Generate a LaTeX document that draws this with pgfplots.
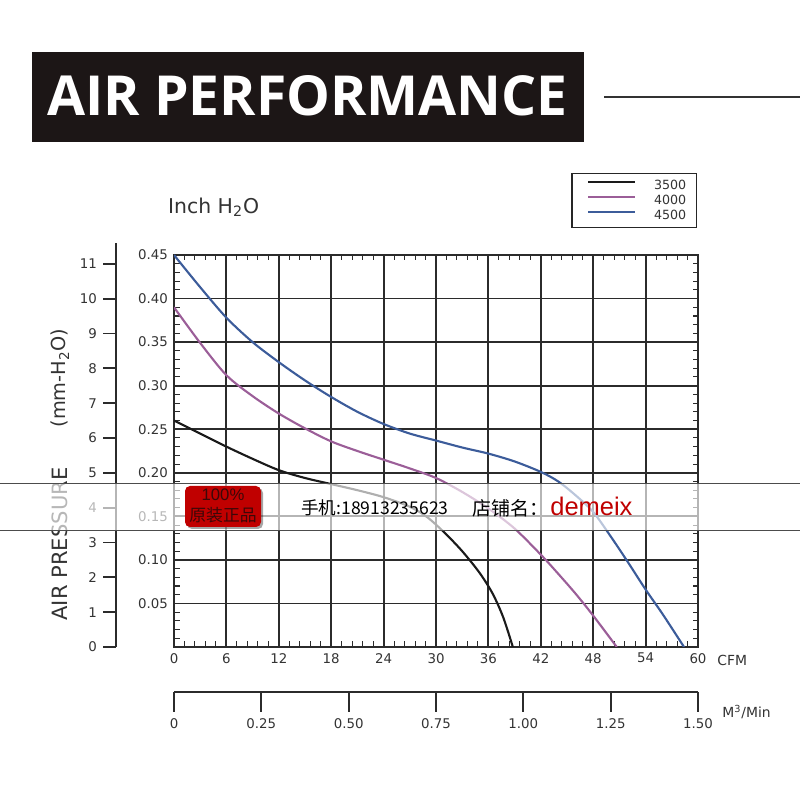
\documentclass[border=0pt]{standalone}
\usepackage{fontspec}
\setmainfont{DejaVu Sans}
\newfontfamily\cjk{Noto Sans CJK SC}
\newfontfamily\titlefont{Open Sans}
\newfontfamily\arialfont{Liberation Sans}
\usepackage{pgfplots}
\pgfplotsset{compat=1.18}

\definecolor{c3500}{HTML}{1A1A1A}
\definecolor{c4000}{HTML}{9B5E98}
\definecolor{c4500}{HTML}{3C5C9A}
\definecolor{gridc}{HTML}{2B2B2B}
\definecolor{txt}{HTML}{333333}
\definecolor{badge}{HTML}{C00000}
\definecolor{titlebg}{HTML}{1C1616}

\pgfplotsset{every tick label/.append style={font=\fontsize{7.6}{8}\selectfont, text=txt},
  /pgf/number format/assume math mode=true}

\begin{document}
\begin{tikzpicture}
\useasboundingbox (0,0) rectangle (160mm,160mm);
% title banner
\fill[titlebg] (6.4mm,131.6mm) rectangle (116.8mm,149.6mm);
\node[text=white, font=\titlefont\bfseries\fontsize{31.4}{32}\selectfont] at (61.5mm,140.9mm) {AIR PERFORMANCE};
\draw[line width=1.1pt, black!80] (120.8mm,140.6mm) -- (160mm,140.6mm);

% outer mm-H2O axis
\begin{axis}[at={(23.2mm,30.6mm)}, anchor=south west, scale only axis,
  width=2mm, height=80.8mm, ymin=0, ymax=11.6, xmin=0, xmax=1,
  axis y line*=left, hide x axis, ytick={0,1,...,11},
  tick align=outside, major tick length=2.6mm,
  y axis line style={line width=1pt, gridc},
  major tick style={line width=1pt, gridc}]
\addplot[draw=none] coordinates {(0,0)};
\end{axis}

% main chart
\begin{axis}[at={(34.8mm,30.6mm)}, anchor=south west, scale only axis,
  width=104.8mm, height=78.4mm,
  xmin=0, xmax=60, ymin=0, ymax=0.45,
  xtick={0,6,12,18,24,30,36,42,48,54,60},
  ytick={0,0.05,0.1,0.15,0.2,0.25,0.3,0.35,0.4,0.45},
  yticklabels={,0.05,0.10,0.15,0.20,0.25,0.30,0.35,0.40,0.45},
  minor x tick num=4, minor y tick num=4,
  tick align=inside, major tick length=0pt, minor tick length=1.1mm,
  grid=major, major grid style={gridc, line width=1.05pt},
  axis line style={gridc, line width=1.05pt},
  minor tick style={gridc, line width=0.6pt},
  legend style={at={(0.998,1.209)}, anchor=north east, draw=black!85,
    line width=0.8pt, font=\fontsize{7.2}{8}\selectfont, text=txt,
    inner xsep=2mm, inner ysep=0.9mm, row sep=0pt,
    nodes={inner sep=0pt, text height=2.2mm, text depth=0.8mm}},
  legend cell align=right,
  legend image code/.code={\path[draw=none] (0mm,0mm) -- (14.4mm,0mm);
    \draw[#1] (1.2mm,0.8mm) -- (10.6mm,0.8mm);}]
\addplot[c3500, line width=1.2pt, smooth] coordinates {
(0,0.260) (3,0.245) (6,0.230) (9,0.216) (12,0.203) (15,0.194) (18,0.187)
(21,0.180) (24,0.172) (27,0.161) (29,0.149) (31,0.131) (33,0.110)
(35,0.085) (36.5,0.061) (37.7,0.034) (38.8,0.0)};
\addlegendentry{3500}
\addplot[c4000, line width=1.2pt, smooth] coordinates {
(0,0.390) (3,0.349) (6,0.312) (9,0.288) (12,0.268) (15,0.251) (18,0.236)
(21,0.225) (24,0.215) (27,0.205) (30,0.194) (33,0.178) (36,0.159)
(39,0.136) (42,0.106) (44,0.084) (46,0.061) (48,0.036) (50.7,0.0)};
\addlegendentry{4000}
\addplot[c4500, line width=1.2pt, smooth] coordinates {
(0,0.450) (3,0.413) (6,0.378) (9,0.350) (12,0.327) (15,0.306) (18,0.287)
(21,0.270) (24,0.256) (27,0.245) (30,0.237) (33,0.229) (36,0.222)
(39,0.213) (42,0.201) (44,0.190) (46,0.174) (48,0.155) (50,0.127)
(52,0.097) (54,0.066) (56,0.037) (58.4,0.0)};
\addlegendentry{4500}
\end{axis}

% M3/Min axis
\begin{axis}[at={(34.8mm,21.6mm)}, anchor=south west, scale only axis,
  width=104.8mm, height=1mm, xmin=0, xmax=1.5, ymin=0, ymax=1,
  hide y axis, axis x line*=bottom,
  xtick={0,0.25,0.5,0.75,1,1.25,1.5},
  xticklabels={0,0.25,0.50,0.75,1.00,1.25,1.50},
  tick align=outside, major tick length=4mm,
  x axis line style={line width=1pt, gridc},
  major tick style={line width=1pt, gridc}]
\addplot[draw=none] coordinates {(0,0)};
\end{axis}

% labels
\node[anchor=west, text=txt, font=\fontsize{11.6}{13}\selectfont] at (32.4mm,118.6mm) {Inch H\textsubscript{2}O};
\node[rotate=90, text=txt, font=\fontsize{12}{13}\selectfont] at (12mm,51.2mm) {AIR PRESSURE};
\node[rotate=90, text=txt, font=\fontsize{11}{12}\selectfont] at (12mm,84.4mm) {(mm-H\textsubscript{2}O)};
\node[anchor=west, text=txt, font=\fontsize{7.9}{8}\selectfont, inner sep=0pt] at (143.4mm,27.9mm) {CFM};
\node[anchor=west, text=txt, font=\fontsize{7.9}{8}\selectfont, inner sep=0pt] at (144.4mm,17.6mm) {M\textsuperscript{3}/Min};

% watermark band
\fill[white, fill opacity=0.65] (0,54mm) rectangle (160mm,63.4mm);
\draw[black!70, line width=0.5pt] (0,63.4mm) -- (160mm,63.4mm);
\draw[black!70, line width=0.5pt] (0,54mm) -- (160mm,54mm);
\fill[black, opacity=0.35, rounded corners=1mm] (37.4mm,54.2mm) rectangle (52.6mm,62.4mm);
\fill[badge, rounded corners=1mm] (37mm,54.6mm) rectangle (52.2mm,62.8mm);
\node[text={rgb,255:red,60;green,8;blue,8}, font=\arialfont\fontsize{9.5}{10}\selectfont] at (44.6mm,61mm) {100\%};
\node[text={rgb,255:red,60;green,8;blue,8}, font=\cjk\fontsize{9.6}{10}\selectfont] at (44.6mm,57mm) {原装正品};
\node[anchor=west, inner sep=0pt, font=\cjk\fontsize{10}{11}\selectfont] at (60.2mm,58.4mm) {手机:18913235623};
\node[anchor=west, inner sep=0pt, font=\cjk\fontsize{10.8}{11}\selectfont] at (94.4mm,58.4mm) {店铺名：};
\node[anchor=west, inner sep=0pt, text=badge, font=\arialfont\fontsize{14.5}{15}\selectfont] at (110mm,58.8mm) {demeix};
\end{tikzpicture}
\end{document}
